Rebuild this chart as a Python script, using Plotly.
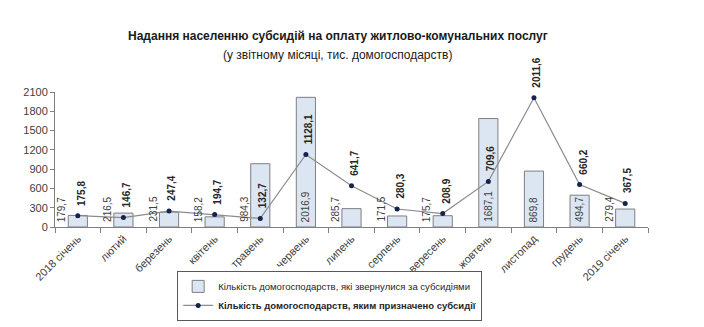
import plotly.graph_objects as go

categories = ["2018 січень", "лютий", "березень", "квітень", "травень", "червень",
              "липень", "серпень", "вересень", "жовтень", "листопад", "грудень", "2019 січень"]
applied = [179.7, 216.5, 231.5, 158.2, 984.3, 2016.9, 285.7, 171.5, 175.7, 1687.1, 869.8, 494.7, 279.4]
granted = [175.8, 146.7, 247.4, 194.7, 132.7, 1128.1, 641.7, 280.3, 208.9, 709.6, 2011.6, 660.2, 367.5]
y_ticks = [0, 300, 600, 900, 1200, 1500, 1800, 2100]

name_bar = "Кількість домогосподарств, які звернулися за субсидіями"
name_line = "<b>Кількість домогосподарств, яким призначено субсидії</b>"

def fmt(v):
    return f"{v:.1f}".replace(".", ",")

font_family = "Liberation Sans, Arial, sans-serif"

fig = go.Figure()
fig.add_trace(go.Bar(
    x=categories, y=applied, name=name_bar,
    marker=dict(color="#dce6f2", line=dict(color="#7f7f7f", width=1)),
))
fig.add_trace(go.Scatter(
    x=categories, y=granted, name=name_line, mode="lines+markers",
    line=dict(color="#8c8c8c", width=1.2),
    marker=dict(color="#14224f", size=5),
))

# bar labels: inside base; some placed to the left of the bar as in the source
centered_idx = {5, 9, 10, 11}
for i, (c, v) in enumerate(zip(categories, applied)):
    fig.add_annotation(
        x=c, y=0, text=fmt(v), showarrow=False, textangle=-90,
        xanchor="center", yanchor="bottom", yshift=3,
        xshift=0 if i in centered_idx else -16,
        font=dict(size=10, color="#404040", family=font_family),
    )

# line labels
for c, v in zip(categories, granted):
    fig.add_annotation(
        x=c, y=v, text=f"<b>{fmt(v)}</b>", showarrow=False, textangle=-90,
        xanchor="center", yanchor="bottom", yshift=8, xshift=3,
        font=dict(size=10, color="#262626", family=font_family),
    )

fig.update_layout(
    width=704, height=327,
    margin=dict(l=55, r=56, t=92, b=100, autoexpand=False),
    paper_bgcolor="white", plot_bgcolor="white",
    font=dict(family=font_family, color="#404040"),
    bargap=0.58,
    showlegend=True,
    legend=dict(
        x=0.206, y=-0.325, xanchor="left", yanchor="top",
        bordercolor="#595959", borderwidth=1,
        font=dict(size=9.5, color="#262626", family=font_family),
        tracegroupgap=0, itemwidth=30,
    ),
    xaxis=dict(
        type="category", range=[-0.5, len(categories) - 0.5],
        tickangle=-45, ticks="outside", tickson="boundaries",
        ticklen=5, tickcolor="#7f7f7f", showline=True, linecolor="#7f7f7f",
        tickfont=dict(size=11, color="#404040"), showgrid=False, automargin=False,
    ),
    yaxis=dict(
        range=[0, 2100], tickvals=y_ticks, ticks="outside", ticklen=4,
        tickcolor="#7f7f7f", showline=True, linecolor="#7f7f7f", showgrid=False,
        zeroline=False, tickfont=dict(size=11, color="#404040"), automargin=False,
    ),
)

fig.add_annotation(
    xref="paper", yref="paper", x=0.477, y=1, yshift=56, yanchor="middle",
    text="<b>Надання населенню субсидій на оплату житлово-комунальних послуг</b>",
    showarrow=False, font=dict(size=12, color="#1a1a1a", family=font_family),
)
fig.add_annotation(
    xref="paper", yref="paper", x=0.477, y=1, yshift=37, yanchor="middle",
    text="(у звітному місяці, тис. домогосподарств)",
    showarrow=False, font=dict(size=12, color="#1a1a1a", family=font_family),
)

fig.write_html("out.html")
